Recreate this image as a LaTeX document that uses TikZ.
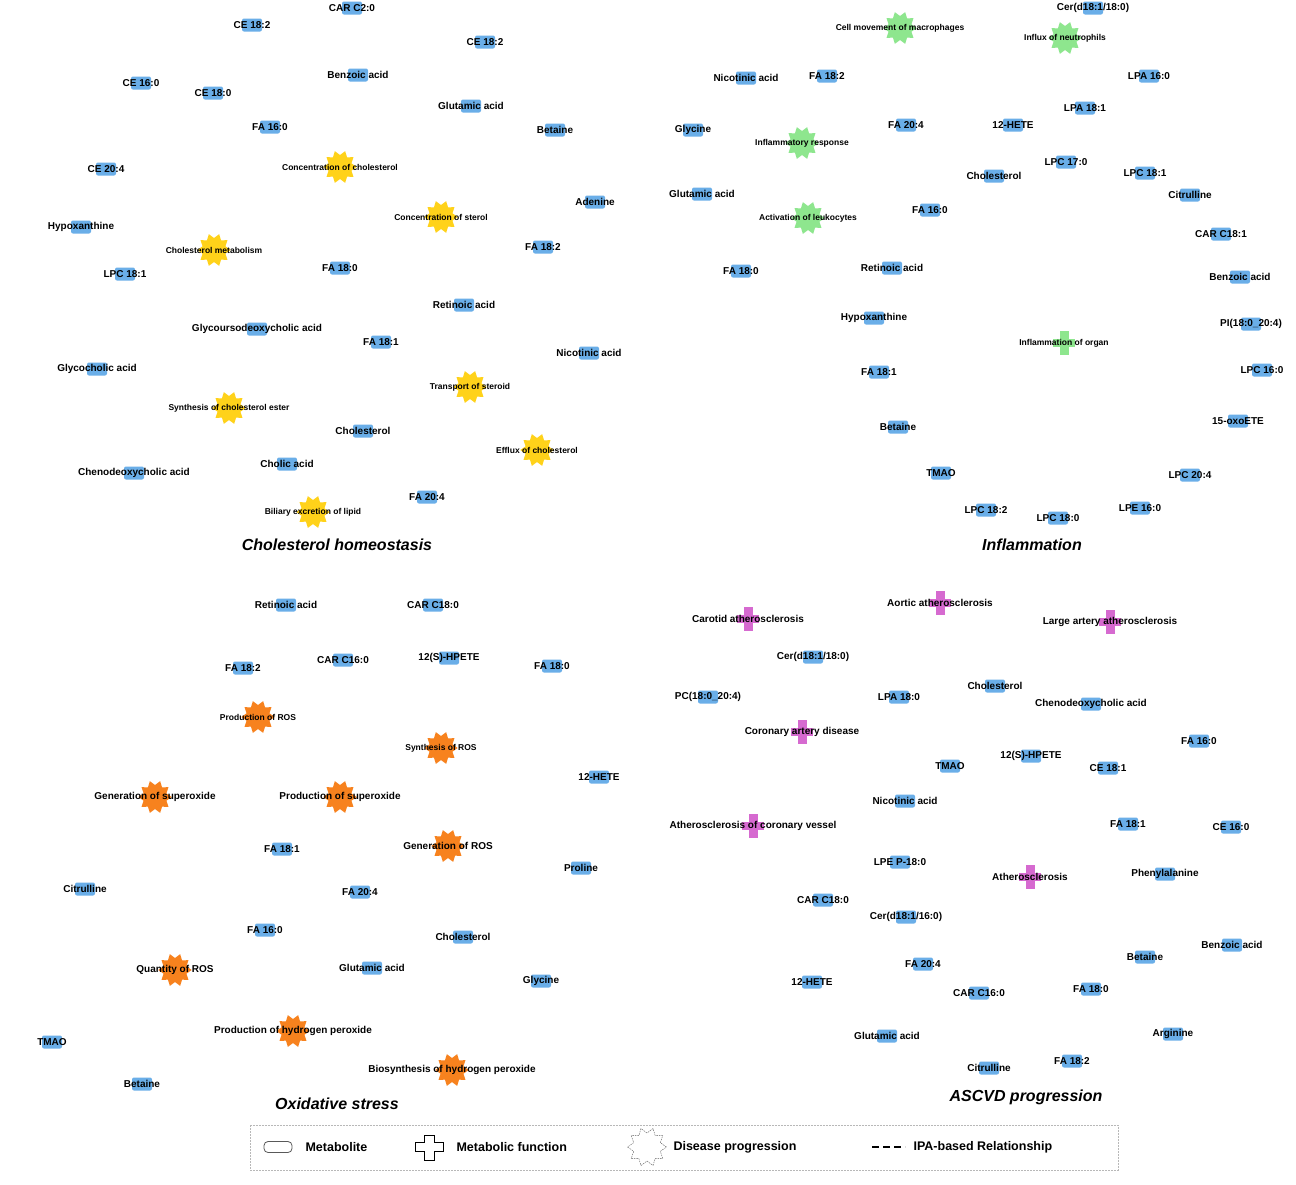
\documentclass[tikz,border=0pt]{standalone}
\usepackage{fontspec}
\setmainfont{Liberation Sans}
\usetikzlibrary{shapes.geometric,arrows.meta,backgrounds}
\definecolor{mblue}{HTML}{6AAEE8}
\definecolor{gy}{HTML}{FFD21A}
\definecolor{gg}{HTML}{8EE68E}
\definecolor{go}{HTML}{F7821E}
\definecolor{gm}{HTML}{D66AD0}
\definecolor{eg}{HTML}{B8B8B8}
\tikzset{
 metbox/.style={draw=none,fill=mblue,rounded corners=2pt,minimum width=20pt,minimum height=13pt,inner sep=0},
 mlbl/.style={font=\bfseries\fontsize{10}{10}\selectfont,inner sep=0},
 flbl/.style={font=\bfseries\fontsize{8.5}{9}\selectfont,inner sep=0},
 anchorc/.style={circle,minimum size=20pt,inner sep=0},
 gearshape/.style={star,star points=10,star point ratio=0.72,minimum size=24pt,inner sep=0,draw=none},
 edge/.style={draw=eg,dashed,dash pattern=on 5pt off 3pt,line width=0.9pt,-{Stealth[length=8pt,width=7pt,fill=eg]},shorten >=1pt},
 ttl/.style={font=\bfseries\itshape\fontsize{16}{16}\selectfont},
}
\newcommand\met[4]{\node[metbox] (#1) at (#2,#3) {}; \node[mlbl] at (#2,#3) {#4};}
\newcommand\gear[5]{\node[anchorc] (#1) at (#2,#3) {}; \node[gearshape,fill=#4] at (#2,#3) {}; \node[flbl] at (#2,#3) {#5};}
\newcommand\crossf[5]{\node[anchorc] (#1) at (#2,#3) {};
 \fill[#4] (#2-4.5,#3-12) rectangle (#2+4.5,#3+12); \fill[#4] (#2-11,#3-4) rectangle (#2+11,#3+4);
 \node[flbl] at (#2,#3) {#5};}
\newcommand\edges[2]{\begin{scope}[on background layer]\foreach \s in {#2} \draw[edge] (\s) -- (#1);\end{scope}}
\begin{document}
\begin{tikzpicture}[x=1pt,y=-1pt]
\useasboundingbox (0,0) rectangle (1296,1184);
\fill[white] (0,0) rectangle (1296,1184);
% ---------- Panel 1
\met{aCAR}{352}{8}{CAR C2:0}
\met{aCEa}{252}{25}{CE 18:2}
\met{aCEb}{485}{42}{CE 18:2}
\met{aBenz}{358}{75}{Benzoic acid}
\met{aCE16}{141}{83}{CE 16:0}
\met{aCE18}{213}{93}{CE 18:0}
\met{aGlu}{471}{106}{Glutamic acid}
\met{aFA16}{270}{127}{FA 16:0}
\met{aBet}{555}{130}{Betaine}
\met{aCE20}{106}{169}{CE 20:4}
\met{aAde}{595}{202}{Adenine}
\met{aHyp}{81}{227}{Hypoxanthine}
\met{aFA182}{543}{247}{FA 18:2}
\met{aLPC}{125}{274}{LPC 18:1}
\met{aFA180}{340}{268}{FA 18:0}
\met{aRet}{464}{305}{Retinoic acid}
\met{aGUDCA}{257}{329}{Glycoursodeoxycholic acid}
\met{aFA181}{381}{342}{FA 18:1}
\met{aNic}{589}{353}{Nicotinic acid}
\met{aGCA}{97}{369}{Glycocholic acid}
\met{aChol}{363}{431}{Cholesterol}
\met{aCA}{287}{464}{Cholic acid}
\met{aCDCA}{134}{473}{Chenodeoxycholic acid}
\met{aFA204}{427}{497}{FA 20:4}
\gear{acc}{340}{167}{gy}{Concentration of cholesterol}
\gear{acs}{441}{217}{gy}{Concentration of sterol}
\gear{acm}{214}{250}{gy}{Cholesterol metabolism}
\gear{ats}{470}{387}{gy}{Transport of steroid}
\gear{asce}{229}{408}{gy}{Synthesis of cholesterol ester}
\gear{aec}{537}{450}{gy}{Efflux of cholesterol}
\gear{abel}{313}{512}{gy}{Biliary excretion of lipid}
\node[ttl] at (337,545) {Cholesterol homeostasis};
\edges{acc}{aCAR,aCEa,aCEb,aBenz,aCE16,aCE18,aGlu,aFA16,aBet,aCE20,aFA180,aFA181,aChol,aRet,aGUDCA}
\edges{acs}{aCAR,aCEb,aBenz,aGlu,aBet,aAde,aFA182,aFA180,aFA181,aChol,aFA16,aGCA}
\edges{acm}{aCE16,aCE18,aCEa,aHyp,aLPC,aFA180,aGUDCA,aGCA,aCA,aChol,aCE20,aFA16,aCDCA}
\edges{ats}{aFA182,aRet,aNic,aChol,aFA181,aFA204,aFA180}
\edges{asce}{aLPC,aGCA,aCDCA,aChol,aCA,aFA181,aFA16,aCE18,aFA180,aGUDCA}
\edges{aec}{aNic,aFA182,aChol,aRet,aFA204}
\edges{abel}{aCDCA,aCA,aChol,aFA204,aGCA,aGUDCA,aLPC}
% ---------- Panel 2
\met{bCer}{1093}{8}{Cer(d18:1/18:0)}
\met{bNic}{746}{78}{Nicotinic acid}
\met{bFA182}{827}{76}{FA 18:2}
\met{bLPA16}{1149}{76}{LPA 16:0}
\met{bLPA18}{1085}{108}{LPA 18:1}
\met{bGly}{693}{130}{Glycine}
\met{bFA204}{906}{125}{FA 20:4}
\met{bHETE}{1013}{125}{12-HETE}
\met{bLPC17}{1066}{162}{LPC 17:0}
\met{bChol}{994}{176}{Cholesterol}
\met{bLPC181}{1145}{173}{LPC 18:1}
\met{bGlu}{702}{194}{Glutamic acid}
\met{bCit}{1190}{195}{Citrulline}
\met{bFA16}{930}{210}{FA 16:0}
\met{bCAR}{1221}{234}{CAR C18:1}
\met{bFA180}{741}{271}{FA 18:0}
\met{bRet}{892}{268}{Retinoic acid}
\met{bBenz}{1240}{277}{Benzoic acid}
\met{bHyp}{874}{318}{Hypoxanthine}
\met{bPI}{1251}{324}{PI(18:0\_20:4)}
\met{bLPC16}{1262}{370}{LPC 16:0}
\met{bFA181}{879}{372}{FA 18:1}
\met{bBet}{898}{427}{Betaine}
\met{bOxo}{1238}{421}{15-oxoETE}
\met{bTMAO}{941}{473}{TMAO}
\met{bLPC204}{1190}{475}{LPC 20:4}
\met{bLPC182}{986}{510}{LPC 18:2}
\met{bLPC180}{1058}{518}{LPC 18:0}
\met{bLPE}{1140}{508}{LPE 16:0}
\gear{bcm}{900}{28}{gg}{Cell movement of macrophages}
\gear{bin}{1065}{38}{gg}{Influx of neutrophils}
\gear{bir}{802}{143}{gg}{Inflammatory response}
\gear{bal}{808}{218}{gg}{Activation of leukocytes}
\crossf{bio}{1064}{343}{gg}{Inflammation of organ}
\node[ttl] at (1032,545) {Inflammation};
\edges{bcm}{bNic,bFA182,bFA204,bHETE,bChol,bGly,bCer}
\edges{bin}{bCer,bLPA16,bLPA18,bFA204,bHETE,bGly}
\edges{bir}{bGly,bNic,bFA182,bFA204,bHETE,bChol,bGlu,bFA16,bRet,bFA180}
\edges{bal}{bGlu,bFA16,bChol,bFA204,bHETE,bFA180,bRet,bHyp,bFA181,bGly}
\edges{bio}{bLPC17,bLPC181,bCit,bCAR,bBenz,bPI,bLPC16,bOxo,bLPC204,bLPE,bLPC180,bLPC182,bTMAO,bBet,bFA181,bHyp,bRet,bFA16,bChol,bHETE,bFA204,bLPA18,bGly,bNic}
% ---------- Panel 3
\met{cRet}{286}{605}{Retinoic acid}
\met{cCAR18}{433}{605}{CAR C18:0}
\met{cFA182}{243}{668}{FA 18:2}
\met{cCAR16}{343}{660}{CAR C16:0}
\met{cHPETE}{449}{658}{12(S)-HPETE}
\met{cFA180}{552}{666}{FA 18:0}
\met{cHETE}{599}{777}{12-HETE}
\met{cFA181}{282}{849}{FA 18:1}
\met{cPro}{581}{868}{Proline}
\met{cCit}{85}{889}{Citrulline}
\met{cFA204}{360}{892}{FA 20:4}
\met{cFA16}{265}{930}{FA 16:0}
\met{cChol}{463}{937}{Cholesterol}
\met{cGlu}{372}{968}{Glutamic acid}
\met{cGly}{541}{981}{Glycine}
\met{cTMAO}{52}{1042}{TMAO}
\met{cBet}{142}{1084}{Betaine}
\gear{cpr}{258}{717}{go}{Production of ROS}
\gear{csr}{441}{748}{go}{Synthesis of ROS}
\gear{cgs}{155}{797}{go}{\fontsize{10}{10}\selectfont Generation of superoxide}
\gear{cps}{340}{797}{go}{\fontsize{10}{10}\selectfont Production of superoxide}
\gear{cgr}{448}{846}{go}{\fontsize{10}{10}\selectfont Generation of ROS}
\gear{cqr}{175}{970}{go}{\fontsize{10}{10}\selectfont Quantity of ROS}
\gear{cphp}{293}{1031}{go}{\fontsize{10}{10}\selectfont Production of hydrogen peroxide}
\gear{cbhp}{452}{1070}{go}{\fontsize{10}{10}\selectfont Biosynthesis of hydrogen peroxide}
\node[ttl] at (337,1104) {Oxidative stress};
\edges{cpr}{cRet,cFA182,cCAR16,cHPETE,cFA181,cFA16,cFA204,cGlu}
\edges{csr}{cRet,cCAR18,cCAR16,cHPETE,cFA180,cHETE,cFA181,cFA204,cFA182}
\edges{cgs}{cFA182,cRet,cFA181,cFA16}
\edges{cps}{cCAR16,cFA182,cFA181,cFA204,cFA16,cHPETE}
\edges{cgr}{cHPETE,cCAR18,cHETE,cPro,cFA181,cFA204,cChol,cGlu,cFA16,cFA180}
\edges{cqr}{cCit,cTMAO,cBet,cFA16,cFA181,cGlu,cFA204}
\edges{cphp}{cFA181,cFA16,cGlu,cFA204,cFA182}
\edges{cbhp}{cGly,cChol,cFA16,cFA204,cGlu,cHPETE}
% ---------- Panel 4
\met{dCer18}{813}{657}{Cer(d18:1/18:0)}
\met{dPC}{708}{697}{PC(18:0\_20:4)}
\met{dLPA}{899}{697}{LPA 18:0}
\met{dChol}{995}{686}{Cholesterol}
\met{dCDCA}{1091}{704}{Chenodeoxycholic acid}
\met{dFA16}{1199}{741}{FA 16:0}
\met{dTMAO}{950}{766}{TMAO}
\met{dHPETE}{1031}{756}{12(S)-HPETE}
\met{dCE181}{1108}{768}{CE 18:1}
\met{dNic}{905}{801}{Nicotinic acid}
\met{dFA181}{1128}{824}{FA 18:1}
\met{dCE16}{1231}{827}{CE 16:0}
\met{dLPE}{900}{862}{LPE P-18:0}
\met{dPhe}{1165}{874}{Phenylalanine}
\met{dCAR18}{823}{900}{CAR C18:0}
\met{dCer16}{906}{917}{Cer(d18:1/16:0)}
\met{dBenz}{1232}{945}{Benzoic acid}
\met{dBet}{1145}{957}{Betaine}
\met{dFA204}{923}{964}{FA 20:4}
\met{dHETE}{812}{982}{12-HETE}
\met{dCAR16}{979}{993}{CAR C16:0}
\met{dFA180}{1091}{989}{FA 18:0}
\met{dGlu}{887}{1036}{Glutamic acid}
\met{dArg}{1173}{1034}{Arginine}
\met{dCit}{989}{1068}{Citrulline}
\met{dFA182}{1072}{1061}{FA 18:2}
\crossf{dca}{748}{619}{gm}{\fontsize{10}{10}\selectfont Carotid atherosclerosis}
\crossf{daa}{940}{603}{gm}{\fontsize{10}{10}\selectfont Aortic atherosclerosis}
\crossf{dla}{1110}{622}{gm}{\fontsize{10}{10}\selectfont Large artery atherosclerosis}
\crossf{dcad}{802}{732}{gm}{\fontsize{10}{10}\selectfont Coronary artery disease}
\crossf{dacv}{753}{826}{gm}{\fontsize{10}{10}\selectfont Atherosclerosis of coronary vessel}
\crossf{dath}{1030}{877}{gm}{\fontsize{10}{10}\selectfont Atherosclerosis}
\node[ttl] at (1026,1097) {ASCVD progression};
\edges{dca}{dCer18,dPC}
\edges{daa}{dChol,dLPA}
\edges{dla}{dFA16,dChol,dCDCA}
\edges{dcad}{dCer18,dLPA,dTMAO,dNic,dChol}
\edges{dacv}{dPC,dHETE,dCAR18,dChol,dLPA,dTMAO}
\edges{dath}{dTMAO,dHPETE,dCE181,dCDCA,dFA16,dChol,dNic,dFA181,dCE16,dLPE,dPhe,dCAR18,dCer16,dBenz,dBet,dFA204,dCAR16,dFA180,dGlu,dArg,dCit,dFA182,dHETE,dLPA}
% ---------- Legend
\draw[eg,dashed,dash pattern=on 2pt off 1pt,line width=0.8pt] (250,1125) rectangle (1118,1170);
\node[draw=gray!70!black,fill=white,rounded corners=4pt,minimum width=28pt,minimum height=11pt,line width=0.8pt] (lm) at (278,1147) {};
\node[font=\bfseries\fontsize{12.5}{13}\selectfont,anchor=west] at (302,1147) {Metabolite};
\draw[line width=0.8pt,fill=white] (424,1135) -- (434,1135) -- (434,1142) -- (443,1142) -- (443,1151) -- (434,1151) -- (434,1160) -- (424,1160) -- (424,1151) -- (415,1151) -- (415,1142) -- (424,1142) -- cycle;
\node[font=\bfseries\fontsize{12.5}{13}\selectfont,anchor=west] at (453,1147) {Metabolic function};
\node[gearshape,minimum size=28pt,draw=gray!70!black,dashed,dash pattern=on 1.5pt off 1pt,fill=white] (lg) at (647,1147) {};
\node[font=\bfseries\fontsize{12.5}{13}\selectfont,anchor=west] at (670,1147) {Disease progression};
\draw[line width=1.4pt,dash pattern=on 7pt off 4pt] (872,1147) -- (905,1147);
\node[font=\bfseries\fontsize{12.5}{13}\selectfont,anchor=west] at (910,1147) {IPA-based Relationship};
\end{tikzpicture}
\end{document}
